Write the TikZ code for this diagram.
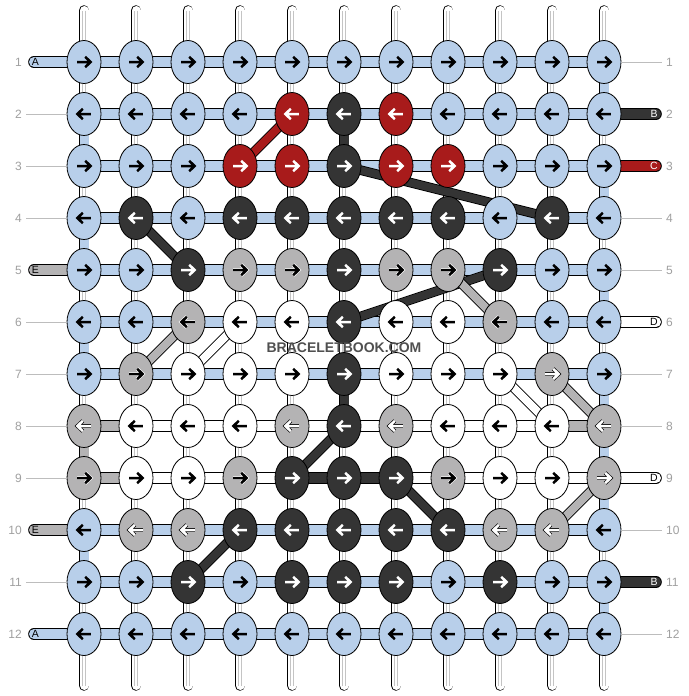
\documentclass[tikz,border=0pt]{standalone}
\usepackage{fontspec}
\setmainfont{Liberation Sans}
\usetikzlibrary{shapes.geometric}
\definecolor{threadblue}{HTML}{B8CFEA}
\definecolor{threaddark}{HTML}{343434}
\definecolor{threadred}{HTML}{A81B1B}
\definecolor{threadgray}{HTML}{B4B3B4}
\definecolor{strandgray}{HTML}{C4C4C4}
\definecolor{numgray}{HTML}{A0A0A0}
\definecolor{guidegray}{HTML}{BDBDBD}
\definecolor{markgray}{HTML}{505050}
\pgfdeclarelayer{strands}
\pgfdeclarelayer{links}
\pgfsetlayers{strands,links,main}
\begin{document}
\begin{tikzpicture}[x=1pt,y=-1pt,
    knot/.style={ellipse,draw,line width=0.8pt,minimum width=34pt,minimum height=43pt,inner sep=0pt},
    knot b/.style={fill=threadblue},knot k/.style={fill=threaddark},knot r/.style={fill=threadred},
    knot g/.style={fill=threadgray},knot h/.style={fill=threadgray},knot w/.style={fill=white},
    ink b/.style={color=black},ink k/.style={color=white},ink r/.style={color=white},
    ink g/.style={color=black},ink h/.style={color=white},ink w/.style={color=black},
    halo b/.style={draw=none},halo k/.style={draw=none},halo r/.style={draw=none},
    halo g/.style={draw=white},halo h/.style={draw=black},halo w/.style={draw=none},
    thread/.style={draw=black,line width=0.8pt,double distance=10pt},
    thread b/.style={double=threadblue},thread k/.style={double=threaddark},thread r/.style={double=threadred},
    thread g/.style={double=threadgray},thread w/.style={double=white},
    vlink/.style={thread,double distance=9pt},
    diag/.style={thread,double distance=8pt},
    strand/.style={draw=black,line width=0.8pt,double=white,double distance=9pt,line cap=round},
    strandline/.style={draw=strandgray,line width=3.4pt},
    rownum/.style={font=\fontsize{12}{12}\selectfont,text=numgray,inner sep=2pt},
    guide/.style={draw=guidegray,line width=0.8pt},
    tag/.style={font=\fontsize{10.5}{10.5}\selectfont,inner sep=0pt},
    watermark/.style={font=\bfseries\fontsize{14}{14}\selectfont,text=markgray,inner sep=0pt}
  ]

  \begin{pgfonlayer}{strands}
    \fill[white] (0,0) rectangle (688,696);
  \end{pgfonlayer}
  \useasboundingbox (0,0) rectangle (688,696);

  \foreach \row/\knots in {
      1/{b,b,b,b,b,b,b,b,b,b,b},
      2/{b,b,b,b,r,k,r,b,b,b,b},
      3/{b,b,b,r,r,k,r,r,b,b,b},
      4/{b,k,b,k,k,k,k,k,b,k,b},
      5/{b,b,k,g,g,k,g,g,k,b,b},
      6/{b,b,g,w,w,k,w,w,g,b,b},
      7/{b,g,w,w,w,k,w,w,w,h,b},
      8/{h,w,w,w,h,k,h,w,w,w,h},
      9/{g,w,w,g,k,k,k,g,w,w,h},
      10/{b,h,h,k,k,k,k,k,h,h,b},
      11/{b,b,k,b,k,k,k,b,k,b,b},
      12/{b,b,b,b,b,b,b,b,b,b,b}}{
    \pgfmathtruncatemacro\dir{1-2*mod(\row+1,2)}
    \foreach \k [count=\c] in \knots{
      \node[knot,knot \k] (n-\row-\c) at ({84+52*(\c-1)},{62+52*(\row-1)}) {};
      \begin{scope}[shift={(n-\row-\c.center)},xscale=\dir,line join=miter]
        \draw[halo \k,line width=3.8pt] (-6.8,0) -- (6,0) (1.2,-5.2) -- (6.6,0) -- (1.2,5.2);
        \draw[ink \k,line width=2.5pt] (-6.8,0) -- (6,0) (1.2,-5.2) -- (6.6,0) -- (1.2,5.2);
      \end{scope}
    }
  }

  \begin{pgfonlayer}{strands}
    \foreach \c in {1,...,11}{
      \coordinate (top-\c) at ({84+52*(\c-1)},10.5);
      \coordinate (bot-\c) at ({84+52*(\c-1)},685.5);
      \draw[strand] (top-\c) -- (bot-\c);
      \draw[strandline] (top-\c) -- (bot-\c);
      \draw[white,line width=1.4pt] (top-\c) -- (bot-\c);
    }
  \end{pgfonlayer}

  \begin{pgfonlayer}{links}
    \foreach \row/\segs in {
        1/{b,b,b,b,b,b,b,b,b,b},2/{b,b,b,b,b,b,b,b,b,b},3/{b,b,b,b,b,b,b,b,b,b},
        4/{b,b,b,b,b,b,b,b,b,b},5/{b,b,b,b,b,b,b,b,b,b},6/{b,b,b,b,b,b,b,b,b,b},
        7/{b,b,b,b,b,b,b,b,b,b},8/{g,w,w,w,w,w,w,w,w,g},9/{g,w,w,w,k,k,w,w,w,w},
        10/{b,b,b,b,b,b,b,b,b,b},11/{b,b,b,b,b,b,b,b,b,b},12/{b,b,b,b,b,b,b,b,b,b}}{
      \foreach \k [count=\c] in \segs{
        \pgfmathtruncatemacro\d{\c+1}
        \draw[thread,thread \k] (n-\row-\c.center) -- (n-\row-\d.center);
      }
    }
    \foreach \ra/\c/\k in {2/1/b,4/1/b,6/1/b,8/1/g,10/1/b,
        1/11/b,3/11/b,5/11/b,7/11/b,8/11/b,9/11/b,11/11/b,2/6/k,7/6/k}{
      \pgfmathtruncatemacro\rb{\ra+1}
      \draw[vlink,thread \k] (n-\ra-\c.center) -- (n-\rb-\c.center);
    }
    \foreach \ra/\ca/\rb/\cb/\k in {3/4/2/5/r,3/6/4/10/k,4/2/5/3/k,5/9/6/6/k,5/8/6/9/g,
        6/3/7/2/g,6/4/7/3/w,7/9/8/10/w,7/10/8/11/g,8/6/9/5/k,9/7/10/8/k,9/11/10/10/g,10/4/11/3/k}
      \draw[diag,thread \k] (n-\ra-\ca.center) -- (n-\rb-\cb.center);
    \foreach \row/\k in {1/b,5/g,10/g,12/b}{
      \coordinate (tailL-\row) at (34,{62+52*(\row-1)});
      \draw[thread,thread \k,line cap=round] (n-\row-1.center) -- (tailL-\row);
    }
    \foreach \row/\k in {2/k,3/r,6/w,9/w,11/k}{
      \coordinate (tailR-\row) at (656,{62+52*(\row-1)});
      \draw[thread,thread \k,line cap=round] (n-\row-11.center) -- (tailR-\row);
    }
  \end{pgfonlayer}

  \foreach \row/\k/\lab in {1/b/A,5/g/E,10/g/E,12/b/A}
    \node[tag,ink \k] (tagL-\row) at ([xshift=1.5pt]tailL-\row) {\lab};
  \foreach \row/\k/\lab in {2/k/B,3/r/C,6/w/D,9/w/D,11/k/B}
    \node[tag,ink \k] (tagR-\row) at ([xshift=-2pt]tailR-\row) {\lab};

  \foreach \row in {1,...,12}{
    \node[rownum,anchor=east] (numL-\row) at (24,{62+52*(\row-1)}) {\row};
    \node[rownum,anchor=west] (numR-\row) at (664,{62+52*(\row-1)}) {\row};
  }
  \foreach \row in {2,3,4,6,7,8,9,11}
    \draw[guide] ([xshift=2pt]numL-\row.east) -- (n-\row-1.west);
  \foreach \row in {1,4,5,7,8,10,12}
    \draw[guide] (n-\row-11.east) -- ([xshift=-2pt]numR-\row.west);

  \node[watermark] (mark) at (344,347.5) {BRACELETBOOK.COM};

\end{tikzpicture}
\end{document}
